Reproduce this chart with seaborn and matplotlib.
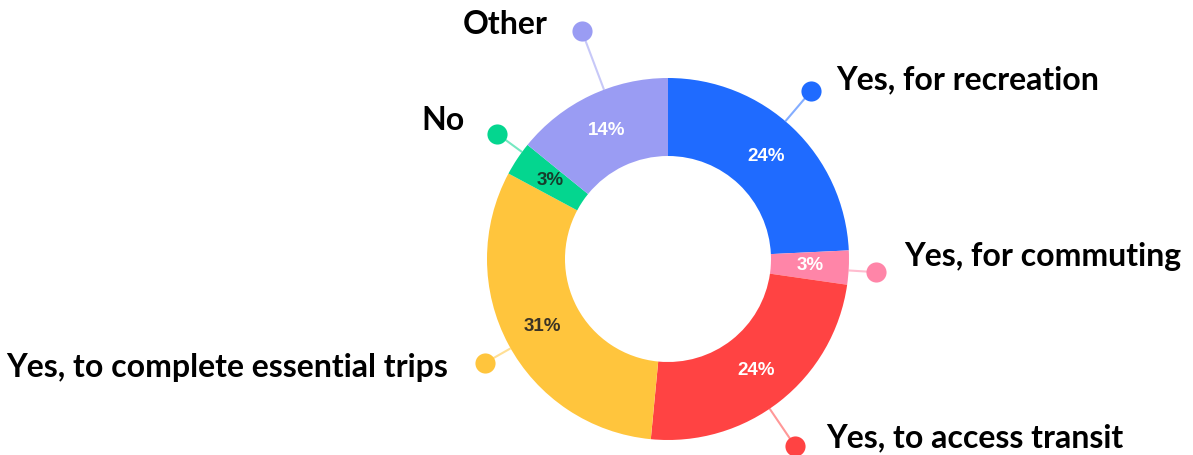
import matplotlib
matplotlib.use("Agg")
import matplotlib.pyplot as plt
import seaborn as sns
import numpy as np

# Survey answers, clockwise from 12 o'clock
categories = ["Yes, for recreation", "Yes, for commuting", "Yes, to access transit",
              "Yes, to complete essential trips", "No", "Other"]
shares = [24, 3, 24, 31, 3, 14]

palette = ["#1F6BFF", "#FF85A8", "#FF4343", "#FFC53D", "#04D68F", "#9A9CF3"]
pct_colors = ["white", "white", "white", "#3b3325", "#173d2c", "white"]

# Callout layout: angular nudge (deg), marker distance from centre (px),
# label offset from marker (px) and alignment
lead_shift = [3.2, -0.9, -4.0, 1.4, -2.6, -4.75]
lead_dist = [221, 208, 226, 210, 212, 244]
label_off = [(25, 11), (29, 16), (31, 8), (-37, -5), (-32, 13), (-34, 6)]
label_ha = ["left", "left", "left", "right", "right", "right"]

sns.set_theme(style="white")
plt.rcParams["font.family"] = ["Lato", "DejaVu Sans"]

W, H = 1193, 455
fig = plt.figure(figsize=(W / 100, H / 100), dpi=100)
ax = fig.add_axes([0, 0, 1, 1])

cx, cy = 668, 196
R_out, ring = 181, 78

wedges, _ = ax.pie(
    shares, colors=palette, startangle=90, counterclock=False,
    radius=R_out, center=(cx, cy),
    wedgeprops=dict(width=ring, linewidth=0),
)
ax.set_xlim(0, W)
ax.set_ylim(0, H)
ax.set_aspect("equal")
ax.axis("off")

r_mid = R_out - ring / 2
for i, w in enumerate(wedges):
    mid = np.deg2rad((w.theta1 + w.theta2) / 2)
    # percentage inside the ring
    ax.text(cx + r_mid * np.cos(mid), cy + r_mid * np.sin(mid), f"{shares[i]}%",
            ha="center", va="center", fontsize=13.5, fontweight="bold",
            color=pct_colors[i], family=["Liberation Sans", "DejaVu Sans"])
    # callout line and dot
    a = mid + np.deg2rad(lead_shift[i])
    x0, y0 = cx + R_out * np.cos(a), cy + R_out * np.sin(a)
    x1, y1 = cx + lead_dist[i] * np.cos(a), cy + lead_dist[i] * np.sin(a)
    ax.plot([x0, x1], [y0, y1], color=palette[i], alpha=0.55, lw=1.5,
            solid_capstyle="butt", zorder=3)
    ax.plot(x1, y1, "o", ms=14.5, color=palette[i], mec="none", zorder=4)
    dx, dy = label_off[i]
    ax.text(x1 + dx, y1 + dy, categories[i], ha=label_ha[i], va="center",
            fontsize=23, fontweight="bold", color="black")

fig.savefig("out.png", dpi=100, facecolor="white")
